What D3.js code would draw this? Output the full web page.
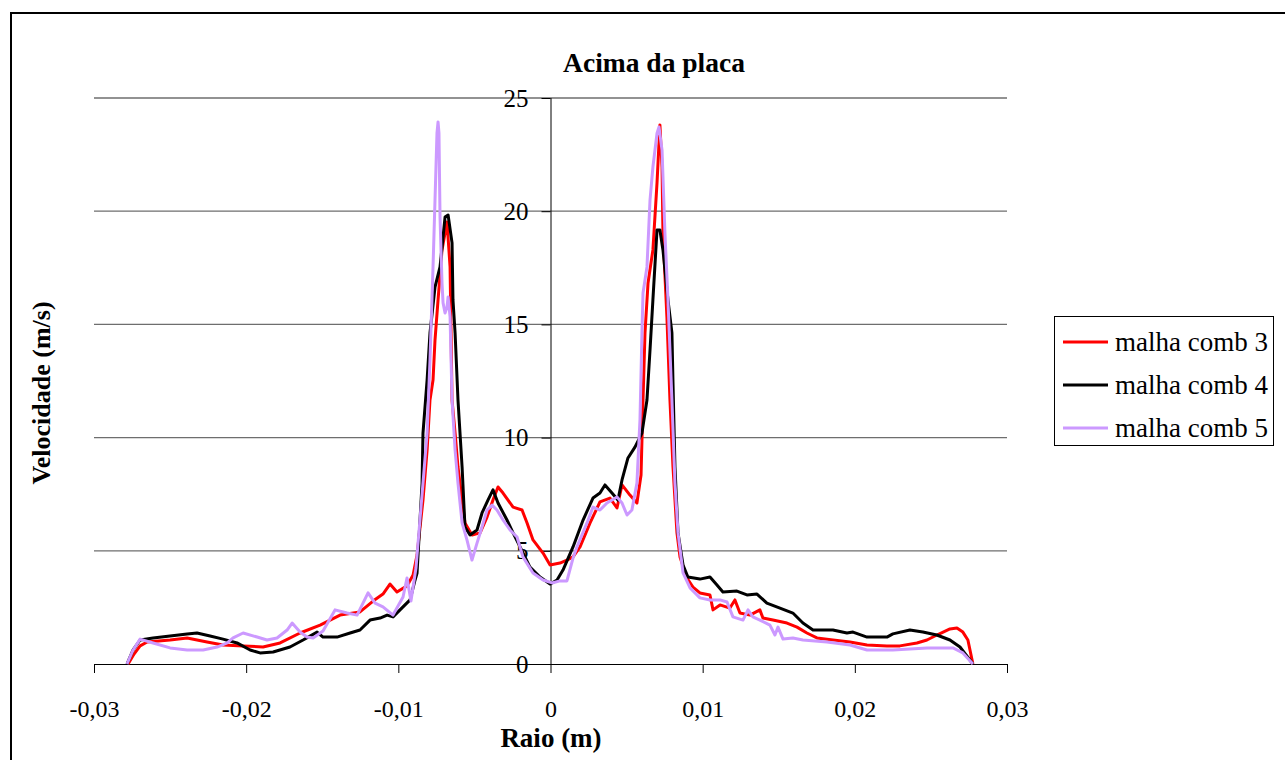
<!DOCTYPE html>
<html>
<head>
<meta charset="utf-8">
<script src="https://cdn.jsdelivr.net/npm/d3@7"></script>
<style>
  body { margin: 0; background: #fff; }
</style>
</head>
<body>
<svg id="chart" width="1285" height="760"></svg>
<script>
// raio (m) and velocidade (m/s)
const comb3X = [-0.02776,-0.02737,-0.02697,-0.02651,-0.02500,-0.02388,-0.02257,-0.02152,-0.02020,-0.01889,-0.01777,-0.01646,-0.01514,-0.01383,-0.01252,-0.01166,-0.01101,-0.01055,-0.01009,-0.00943,-0.00903,-0.00877,-0.00838,-0.00811,-0.00792,-0.00772,-0.00759,-0.00739,-0.00713,-0.00680,-0.00660,-0.00647,-0.00627,-0.00608,-0.00581,-0.00562,-0.00516,-0.00463,-0.00417,-0.00378,-0.00345,-0.00312,-0.00246,-0.00187,-0.00154,-0.00115,-0.00049,-0.00003,0.00062,0.00108,0.00148,0.00194,0.00260,0.00325,0.00391,0.00437,0.00470,0.00522,0.00568,0.00595,0.00608,0.00621,0.00641,0.00673,0.00700,0.00719,0.00733,0.00739,0.00765,0.00785,0.00805,0.00831,0.00851,0.00897,0.00936,0.00982,0.01048,0.01068,0.01114,0.01179,0.01212,0.01245,0.01311,0.01376,0.01396,0.01462,0.01554,0.01620,0.01685,0.01751,0.01856,0.01968,0.02080,0.02211,0.02296,0.02408,0.02474,0.02539,0.02625,0.02671,0.02710,0.02743,0.02776];
const comb3Y = [0,0.44,0.80,0.97,1.06,1.15,0.97,0.84,0.80,0.75,0.93,1.37,1.72,2.16,2.30,2.78,3.09,3.53,3.18,3.45,3.93,4.81,7.24,9.45,11.66,12.54,14.31,16.08,18.29,19.52,17.54,11.66,10.20,8.70,7.24,6.23,5.70,5.79,6.49,7.24,7.82,7.55,6.93,6.80,6.23,5.48,4.90,4.37,4.46,4.59,4.73,5.17,6.23,7.16,7.33,6.89,7.91,7.46,7.11,8.35,11.66,14.62,16.83,18.29,21.25,23.81,21.95,19.04,15.33,11.66,8.70,5.79,4.73,3.80,3.40,3.14,3.05,2.39,2.61,2.47,2.83,2.25,2.16,2.39,2.03,1.94,1.81,1.63,1.37,1.15,1.06,0.97,0.84,0.80,0.80,0.93,1.06,1.28,1.55,1.59,1.41,1.06,0];

const comb4X = [-0.02783,-0.02743,-0.02697,-0.02612,-0.02500,-0.02388,-0.02323,-0.02237,-0.02152,-0.02060,-0.01974,-0.01909,-0.01823,-0.01712,-0.01626,-0.01534,-0.01495,-0.01403,-0.01317,-0.01252,-0.01186,-0.01120,-0.01074,-0.01035,-0.00989,-0.00923,-0.00890,-0.00877,-0.00844,-0.00838,-0.00811,-0.00792,-0.00759,-0.00726,-0.00693,-0.00673,-0.00647,-0.00641,-0.00627,-0.00608,-0.00581,-0.00562,-0.00529,-0.00483,-0.00450,-0.00411,-0.00378,-0.00345,-0.00286,-0.00246,-0.00200,-0.00135,-0.00069,-0.00003,0.00043,0.00082,0.00148,0.00214,0.00279,0.00325,0.00358,0.00404,0.00443,0.00470,0.00509,0.00555,0.00601,0.00634,0.00654,0.00673,0.00700,0.00719,0.00739,0.00772,0.00798,0.00805,0.00818,0.00838,0.00871,0.00903,0.00982,0.01048,0.01094,0.01133,0.01225,0.01291,0.01357,0.01422,0.01508,0.01593,0.01659,0.01725,0.01856,0.01948,0.01988,0.02080,0.02211,0.02250,0.02362,0.02447,0.02539,0.02625,0.02691,0.02776];
const comb4Y = [0,0.62,1.06,1.15,1.24,1.33,1.37,1.24,1.10,0.93,0.62,0.49,0.53,0.75,1.06,1.41,1.19,1.19,1.37,1.50,1.94,2.03,2.16,2.08,2.39,2.83,3.71,4.02,7.99,10.20,12.54,14.62,16.65,17.54,19.74,19.83,18.60,16.08,14.62,11.66,8.70,6.05,5.70,5.92,6.67,7.24,7.69,7.11,6.36,5.79,5.17,4.28,3.84,3.53,3.71,4.15,5.17,6.36,7.33,7.55,7.91,7.55,7.24,8.13,9.10,9.58,10.20,11.66,13.87,16.08,19.17,19.17,18.29,16.08,14.62,12.41,8.70,5.79,4.37,3.84,3.75,3.84,3.49,3.18,3.22,3.05,3.09,2.69,2.47,2.25,1.81,1.50,1.50,1.37,1.41,1.19,1.19,1.33,1.50,1.41,1.28,1.06,0.75,0];

const comb5X = [-0.02783,-0.02743,-0.02697,-0.02612,-0.02500,-0.02388,-0.02283,-0.02191,-0.02125,-0.02086,-0.02020,-0.01928,-0.01863,-0.01797,-0.01731,-0.01698,-0.01646,-0.01600,-0.01560,-0.01495,-0.01416,-0.01337,-0.01271,-0.01199,-0.01153,-0.01101,-0.01035,-0.00969,-0.00943,-0.00917,-0.00884,-0.00838,-0.00811,-0.00792,-0.00772,-0.00759,-0.00746,-0.00739,-0.00733,-0.00726,-0.00713,-0.00706,-0.00693,-0.00680,-0.00673,-0.00660,-0.00647,-0.00627,-0.00608,-0.00581,-0.00549,-0.00516,-0.00483,-0.00450,-0.00417,-0.00384,-0.00352,-0.00312,-0.00266,-0.00220,-0.00181,-0.00115,-0.00049,0.00010,0.00062,0.00108,0.00148,0.00174,0.00240,0.00279,0.00325,0.00371,0.00437,0.00470,0.00503,0.00535,0.00568,0.00588,0.00601,0.00608,0.00634,0.00654,0.00673,0.00700,0.00713,0.00733,0.00752,0.00772,0.00798,0.00818,0.00838,0.00871,0.00917,0.00982,0.01048,0.01114,0.01160,0.01199,0.01265,0.01298,0.01330,0.01376,0.01442,0.01475,0.01495,0.01528,0.01593,0.01659,0.01817,0.01968,0.02080,0.02250,0.02474,0.02645,0.02710,0.02776];
const comb5Y = [0,0.62,1.10,0.93,0.71,0.62,0.62,0.75,0.93,1.15,1.37,1.19,1.06,1.15,1.50,1.81,1.41,1.19,1.15,1.46,2.39,2.25,2.16,3.14,2.69,2.52,2.16,2.96,3.80,2.78,4.24,7.99,10.20,13.43,17.54,20.49,23.45,23.94,23.45,19.74,16.83,15.95,15.50,15.77,16.21,15.33,11.66,9.45,7.99,6.23,5.48,4.59,5.34,6.05,6.80,7.02,6.80,6.36,5.92,5.61,4.73,4.02,3.71,3.58,3.67,3.67,4.68,5.17,6.23,6.93,6.80,7.11,7.38,7.11,6.58,6.80,7.99,10.78,14.62,16.39,17.54,20.49,21.95,23.45,23.72,22.70,19.04,16.08,11.66,7.99,5.79,4.02,3.36,2.92,2.83,2.83,2.74,2.08,1.94,2.39,2.08,1.94,1.72,1.28,1.63,1.10,1.15,1.06,0.97,0.84,0.62,0.62,0.71,0.71,0.49,0];

const seriesNames = ["malha comb 3", "malha comb 4", "malha comb 5"];
const seriesColors = ["#ff0000", "#000000", "#cc99ff"];
const xTicks = [-0.03, -0.02, -0.01, 0, 0.01, 0.02, 0.03];
const xTickLabels = ["-0,03", "-0,02", "-0,01", "0", "0,01", "0,02", "0,03"];
const yTicks = [0, 5, 10, 15, 20, 25];
const yTickLabels = ["0", "5", "10", "15", "20", "25"];

const serif = "'Liberation Serif', 'Times New Roman', 'DejaVu Serif', serif";

const svg = d3.select("#chart");
const plotLeft = 94, plotRight = 1007, plotTop = 98, plotBottom = 664;

const x = d3.scaleLinear().domain([-0.03, 0.03]).range([plotLeft, plotRight]);
const y = d3.scaleLinear().domain([0, 25]).range([plotBottom, plotTop]);

// outer chart frame
svg.append("rect")
    .attr("x", 11).attr("y", 13)
    .attr("width", 1300).attr("height", 800)
    .attr("fill", "none").attr("stroke", "#000").attr("stroke-width", 2);

// gridlines
svg.append("g")
    .selectAll("line")
    .data(yTicks.slice(1))
    .join("line")
    .attr("x1", plotLeft).attr("x2", plotRight)
    .attr("y1", d => y(d)).attr("y2", d => y(d))
    .attr("stroke", "#6e6e6e").attr("stroke-width", 1.3);

// x axis at y = 0
const xAxis = d3.axisBottom(x)
    .tickValues(xTicks)
    .tickFormat((d, i) => xTickLabels[i])
    .tickSize(9);
const gx = svg.append("g")
    .attr("transform", `translate(0,${y(0)})`)
    .call(xAxis)
    .attr("font-family", serif);
gx.select(".domain").attr("d", `M${plotLeft},0.5H${plotRight}`).attr("stroke", "#000");
gx.selectAll(".tick line").attr("stroke", "#000");
gx.selectAll(".tick text")
    .style("font-family", serif)
    .attr("font-size", 24).attr("dy", "0.35em").attr("y", 45);

// y axis at x = 0
const yAxis = d3.axisLeft(y)
    .tickValues(yTicks)
    .tickFormat((d, i) => yTickLabels[i])
    .tickSize(9)
    .tickPadding(13);
const gy = svg.append("g")
    .attr("transform", `translate(${x(0)},0)`)
    .call(yAxis)
    .attr("font-family", serif);
gy.select(".domain").attr("d", `M0.5,${plotTop}V${plotBottom}`).attr("stroke", "#000");
gy.selectAll(".tick line").attr("stroke", "#000");
gy.selectAll(".tick text").style("font-family", serif).attr("font-size", 25);

// series
const lineGen = d3.line()
    .x(d => x(d[0]))
    .y(d => y(d[1]));

const seriesData = [
    d3.zip(comb3X, comb3Y),
    d3.zip(comb4X, comb4Y),
    d3.zip(comb5X, comb5Y)
];

svg.append("g")
    .selectAll("path")
    .data(seriesData)
    .join("path")
    .attr("d", lineGen)
    .attr("fill", "none")
    .attr("stroke", (d, i) => seriesColors[i])
    .attr("stroke-width", 3)
    .attr("stroke-linejoin", "round");

// titles
svg.append("text")
    .attr("x", 654).attr("y", 72)
    .attr("text-anchor", "middle")
    .style("font-family", serif)
    .attr("font-weight", "bold").attr("font-size", 27.5)
    .text("Acima da placa");

svg.append("text")
    .attr("x", 551).attr("y", 747)
    .attr("text-anchor", "middle")
    .style("font-family", serif)
    .attr("font-weight", "bold").attr("font-size", 27)
    .text("Raio (m)");

svg.append("text")
    .attr("transform", "translate(50,393) rotate(-90)")
    .attr("text-anchor", "middle")
    .style("font-family", serif)
    .attr("font-weight", "bold").attr("font-size", 26)
    .text("Velocidade (m/s)");

// legend
const legend = svg.append("g");
legend.append("rect")
    .attr("x", 1054.5).attr("y", 316.5)
    .attr("width", 219).attr("height", 129)
    .attr("fill", "#fff").attr("stroke", "#000").attr("stroke-width", 1);

const rows = legend.selectAll("g.row")
    .data(seriesNames)
    .join("g")
    .attr("class", "row")
    .attr("transform", (d, i) => `translate(1063,${342 + i * 43})`);
rows.append("line")
    .attr("x1", 0).attr("x2", 45)
    .attr("stroke", (d, i) => seriesColors[i])
    .attr("stroke-width", 3);
rows.append("text")
    .attr("x", 52).attr("dy", "0.35em")
    .style("font-family", serif)
    .attr("font-size", 27)
    .text(d => d);
</script>
</body>
</html>
